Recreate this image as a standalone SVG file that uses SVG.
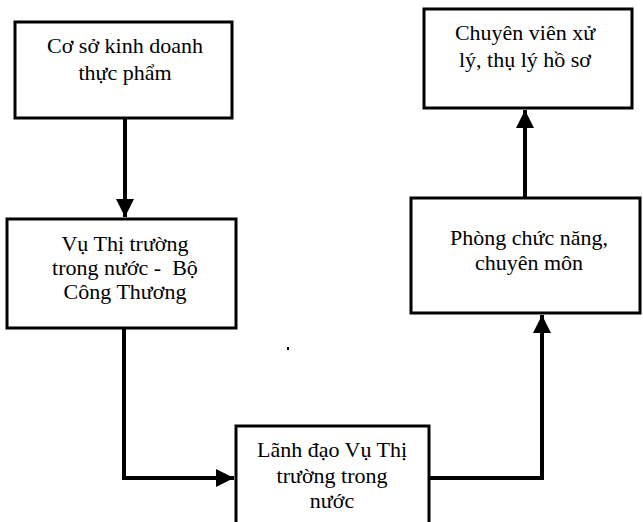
<svg xmlns="http://www.w3.org/2000/svg" width="643" height="522" viewBox="0 0 643 522">
<style>
.box{fill:#fff;stroke:#000;stroke-width:3}
.t{font-family:"Liberation Serif","Times New Roman",serif;font-size:22px;fill:#000;text-anchor:middle}
.c{fill:none;stroke:#000;stroke-width:4}
</style>
<defs>
<marker id="ah" viewBox="0 0 10 10" refX="10" refY="5" markerWidth="4.5" markerHeight="4.5" orient="auto" markerUnits="strokeWidth">
<path d="M0,0 L10,5 L0,10 Z" fill="#000"/>
</marker>
</defs>
<rect width="643" height="522" fill="#fff"/>
<g id="connectors">
<line class="c" x1="125" y1="118" x2="125" y2="217" marker-end="url(#ah)"/>
<polyline class="c" points="124,328 124,478 234,478" marker-end="url(#ah)"/>
<polyline class="c" points="429,478 542,478 542,315" marker-end="url(#ah)"/>
<line class="c" x1="525" y1="198" x2="525" y2="110" marker-end="url(#ah)"/>
</g>
<g id="n1">
<rect class="box" x="15" y="22" width="217" height="96"/>
<text class="t" x="125" y="53">Cơ sở kinh doanh</text>
<text class="t" x="125" y="80">thực phẩm</text>
</g>
<g id="n2">
<rect class="box" x="424" y="9" width="208" height="99"/>
<text class="t" x="525" y="40">Chuyên viên xử</text>
<text class="t" x="525" y="67">lý, thụ lý hồ sơ</text>
</g>
<g id="n3">
<rect class="box" x="7" y="219" width="229" height="109"/>
<text class="t" x="125" y="251">Vụ Thị trường</text>
<text class="t" x="125" y="275" xml:space="preserve">trong nước -  Bộ</text>
<text class="t" x="125" y="299">Công Thương</text>
</g>
<g id="n4">
<rect class="box" x="411" y="198" width="229" height="115"/>
<text class="t" x="529" y="245">Phòng chức năng,</text>
<text class="t" x="529" y="270">chuyên môn</text>
</g>
<g id="n5">
<rect class="box" x="236" y="426" width="193" height="100"/>
<text class="t" x="332" y="457">Lãnh đạo Vụ Thị</text>
<text class="t" x="332" y="483">trường trong</text>
<text class="t" x="332" y="508">nước</text>
</g>
<rect x="287" y="347" width="2" height="3" fill="#000"/>
</svg>
